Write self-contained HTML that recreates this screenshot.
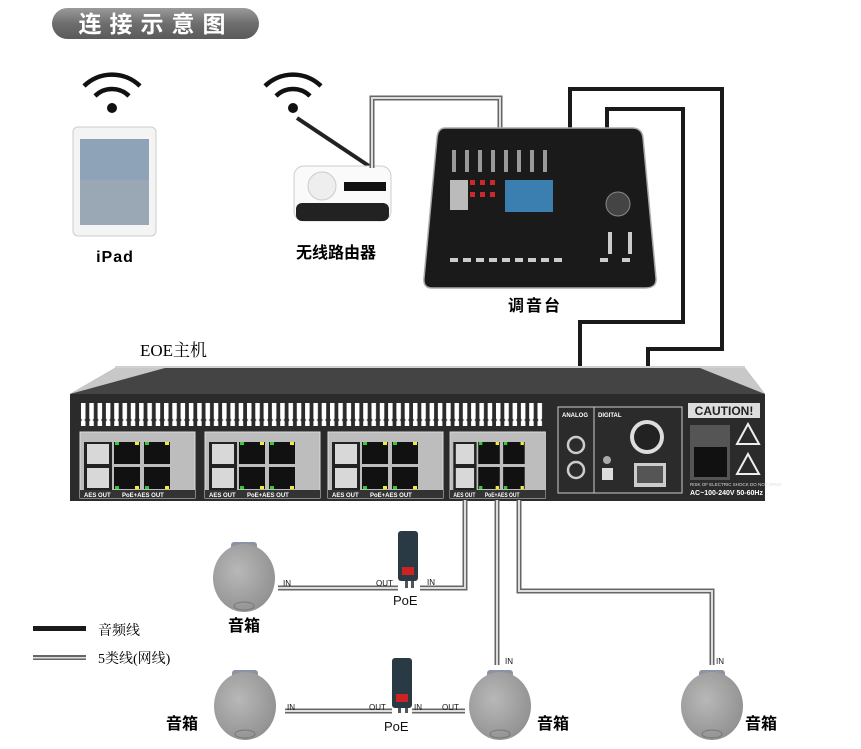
<!DOCTYPE html>
<html><head><meta charset="utf-8"><style>
html,body{margin:0;padding:0;background:#fff;}
svg{display:block;}
.cn{font-family:"Liberation Sans","Noto Sans CJK SC",sans-serif;}
</style></head><body>
<svg width="861" height="749" viewBox="0 0 861 749" xmlns="http://www.w3.org/2000/svg">
<defs>
<linearGradient id="pill" x1="0" y1="0" x2="0" y2="1"><stop offset="0" stop-color="#9a9a9a"/><stop offset="0.5" stop-color="#6e6e6e"/><stop offset="1" stop-color="#5a5a5a"/></linearGradient>
<radialGradient id="spk" cx="0.4" cy="0.4" r="0.7"><stop offset="0" stop-color="#b8b8b8"/><stop offset="1" stop-color="#8e8e8e"/></radialGradient>
<pattern id="vent" x="80" y="0" width="8.3" height="30" patternUnits="userSpaceOnUse"><rect x="1" y="0" width="4.5" height="30" rx="2" fill="#fff"/></pattern>
<g id="pg">
 <rect x="0" y="0" width="115" height="66" fill="#bdbdbd" stroke="#ddd"/>
 <rect x="4" y="10" width="28" height="48" fill="#222"/>
 <rect x="7" y="12" width="22" height="20" fill="#d8d8d8"/>
 <rect x="7" y="36" width="22" height="20" fill="#d8d8d8"/>
 <rect x="34" y="10" width="26" height="22" fill="#111"/>
 <rect x="64" y="10" width="26" height="22" fill="#111"/>
 <rect x="34" y="35" width="26" height="22" fill="#111"/>
 <rect x="64" y="35" width="26" height="22" fill="#111"/>
 <rect x="35" y="10" width="4" height="3" fill="#3c3"/><rect x="55" y="10" width="4" height="3" fill="#ee3"/>
 <rect x="65" y="10" width="4" height="3" fill="#3c3"/><rect x="85" y="10" width="4" height="3" fill="#ee3"/>
 <rect x="35" y="54" width="4" height="3" fill="#3c3"/><rect x="55" y="54" width="4" height="3" fill="#ee3"/>
 <rect x="65" y="54" width="4" height="3" fill="#3c3"/><rect x="85" y="54" width="4" height="3" fill="#ee3"/>
 <rect x="0" y="58" width="115" height="8" fill="#333"/>
 <text x="4" y="65" font-size="6" fill="#fff" font-family="Liberation Sans" font-weight="bold">AES OUT</text>
 <text x="42" y="65" font-size="6" fill="#fff" font-family="Liberation Sans" font-weight="bold">PoE+AES OUT</text>
</g>
<g id="wifi" fill="none" stroke="#111" stroke-width="4.5">
 <path d="M-28,-22 A40,40 0 0 1 28,-22"/><path d="M-17,-12 A24,24 0 0 1 17,-12"/><circle cx="0" cy="0" r="5" fill="#111" stroke="none"/>
</g>
<g id="speaker">
 <rect x="-13" y="-36" width="26" height="14" rx="3" fill="#8a94a4"/>
 <ellipse cx="0" cy="0" rx="31" ry="34" fill="url(#spk)"/>
 <ellipse cx="0" cy="28" rx="10" ry="4" fill="none" stroke="#777"/>
</g>
<g id="poe">
 <rect x="0" y="0" width="20" height="50" rx="3" fill="#2a3a44"/>
 <rect x="4" y="36" width="12" height="8" fill="#c22"/>
</g>
</defs>

<rect x="52" y="8" width="207" height="31" rx="15.5" fill="url(#pill)"/>
<text x="156" y="32" font-size="23" fill="#fff" text-anchor="middle" letter-spacing="8" class="cn" font-weight="bold">连接示意图</text>

<use href="#wifi" x="112" y="108"/>
<use href="#wifi" x="293" y="108"/>

<rect x="73" y="127" width="83" height="109" rx="5" fill="#f4f4f4" stroke="#ccc"/>
<rect x="80" y="139" width="69" height="86" fill="#8fa3b8"/>
<rect x="80" y="180" width="69" height="45" fill="#9aa8b6"/>
<text x="115" y="262" font-size="16" text-anchor="middle" font-weight="bold" font-family="Liberation Sans" letter-spacing="1">iPad</text>

<line x1="297" y1="118" x2="372" y2="168" stroke="#222" stroke-width="4"/>
<rect x="294" y="166" width="97" height="55" rx="10" fill="#fafafa" stroke="#ccc"/>
<rect x="296" y="203" width="93" height="18" rx="6" fill="#222"/>
<circle cx="322" cy="186" r="14" fill="#eee" stroke="#ccc"/>
<rect x="344" y="182" width="42" height="9" fill="#111"/>
<text x="336" y="258" font-size="16" text-anchor="middle" class="cn" font-weight="bold">无线路由器</text>

<path d="M372,168 V98 H500 V130" fill="none" stroke="#666" stroke-width="5"/>
<path d="M372,168 V98 H500 V130" fill="none" stroke="#ddd" stroke-width="2"/>

<path d="M570,130 V89 H722 V349 H648 V430" fill="none" stroke="#1a1a1a" stroke-width="4"/>
<path d="M607,130 V109 H683 V322 H580 V418" fill="none" stroke="#1a1a1a" stroke-width="4"/>

<path d="M445,128 H632 Q642,128 643,138 L656,278 Q657,288 645,288 H432 Q423,288 424,278 L437,138 Q438,128 445,128 Z" fill="#1a1a1a" stroke="#aaa" stroke-width="1.5"/>
<rect x="505" y="180" width="48" height="32" fill="#3a7fb0"/>
<g fill="#cc2a2a"><rect x="470" y="180" width="5" height="5"/><rect x="480" y="180" width="5" height="5"/><rect x="490" y="180" width="5" height="5"/><rect x="470" y="192" width="5" height="5"/><rect x="480" y="192" width="5" height="5"/><rect x="490" y="192" width="5" height="5"/></g>
<rect x="450" y="180" width="18" height="30" fill="#bbb"/>
<circle cx="618" cy="204" r="12" fill="#444" stroke="#888"/>
<g fill="#ccc">
<rect x="450" y="258" width="8" height="4"/><rect x="463" y="258" width="8" height="4"/><rect x="476" y="258" width="8" height="4"/><rect x="489" y="258" width="8" height="4"/><rect x="502" y="258" width="8" height="4"/><rect x="515" y="258" width="8" height="4"/><rect x="528" y="258" width="8" height="4"/><rect x="541" y="258" width="8" height="4"/><rect x="554" y="258" width="8" height="4"/><rect x="600" y="258" width="8" height="4"/><rect x="622" y="258" width="8" height="4"/>
<rect x="608" y="232" width="4" height="22"/><rect x="628" y="232" width="4" height="22"/>
</g>
<g fill="#999">
<rect x="452" y="150" width="4" height="22"/><rect x="465" y="150" width="4" height="22"/><rect x="478" y="150" width="4" height="22"/><rect x="491" y="150" width="4" height="22"/><rect x="504" y="150" width="4" height="22"/><rect x="517" y="150" width="4" height="22"/><rect x="530" y="150" width="4" height="22"/><rect x="543" y="150" width="4" height="22"/>
</g>
<text x="535" y="311" font-size="16" text-anchor="middle" class="cn" font-weight="bold" letter-spacing="2">调音台</text>

<text x="140" y="356" font-size="17" font-family="Liberation Serif,'Noto Serif CJK SC',serif">EOE主机</text>

<rect x="115" y="366" width="630" height="14" fill="#d0d0d0"/>
<path d="M70,394 L115,368 H745 L765,394 Z" fill="#444"/>
<path d="M115,368 L165,368 L70,394 Z" fill="#c8c8c8"/>
<path d="M700,368 H745 L765,394 Z" fill="#c8c8c8"/>
<rect x="70" y="394" width="695" height="107" fill="#2b2b2b"/>
<rect x="80" y="403" width="464" height="23" fill="url(#vent)"/>
<use href="#pg" x="80" y="432"/>
<use href="#pg" x="205" y="432"/>
<use href="#pg" x="328" y="432"/>
<g transform="translate(450,432) scale(0.83,1)"><use href="#pg"/></g>
<rect x="558" y="407" width="124" height="86" fill="none" stroke="#ccc" stroke-width="1"/>
<line x1="594" y1="407" x2="594" y2="493" stroke="#ccc"/>
<text x="562" y="417" font-size="6" fill="#fff" font-family="Liberation Sans" font-weight="bold">ANALOG</text>
<text x="598" y="417" font-size="6" fill="#fff" font-family="Liberation Sans" font-weight="bold">DIGITAL</text>
<circle cx="576" cy="445" r="8" fill="none" stroke="#ccc" stroke-width="2.5"/>
<circle cx="576" cy="470" r="8" fill="none" stroke="#ccc" stroke-width="2.5"/>
<circle cx="647" cy="437" r="17" fill="#ddd"/><circle cx="647" cy="437" r="13" fill="#222"/>
<circle cx="607" cy="460" r="4" fill="#aaa"/><rect x="602" y="468" width="11" height="12" fill="#ddd"/>
<rect x="634" y="463" width="32" height="24" fill="#ccc"/><rect x="637" y="466" width="26" height="17" fill="#555"/>
<rect x="688" y="403" width="72" height="15" fill="#ddd"/>
<text x="724" y="415" font-size="12" text-anchor="middle" font-family="Liberation Sans" font-weight="bold" fill="#222">CAUTION!</text>
<rect x="690" y="425" width="40" height="55" fill="#555"/>
<rect x="694" y="447" width="33" height="30" fill="#111"/>
<path d="M748,424 L737,444 H759 Z M748,454 L737,474 H759 Z" fill="none" stroke="#eee" stroke-width="2"/>
<text x="690" y="486" font-size="4.5" fill="#ddd" font-family="Liberation Sans">RISK OF ELECTRIC SHOCK DO NOT OPEN</text>
<text x="690" y="495" font-size="7" fill="#fff" font-weight="bold" font-family="Liberation Sans">AC~100-240V  50-60Hz</text>

<g fill="none" stroke="#666" stroke-width="5">
<path d="M465,500 V588 H420"/><path d="M398,588 H278"/>
<path d="M497,500 V665"/>
<path d="M519,500 V591 H712 V665"/>
<path d="M285,711 H392"/><path d="M412,711 H465"/>
</g>
<g fill="none" stroke="#ddd" stroke-width="2">
<path d="M465,500 V588 H420"/><path d="M398,588 H278"/>
<path d="M497,500 V665"/>
<path d="M519,500 V591 H712 V665"/>
<path d="M285,711 H392"/><path d="M412,711 H465"/>
</g>

<use href="#poe" x="398" y="531"/>
<rect x="405" y="581" width="3" height="7" fill="#555"/><rect x="411" y="581" width="3" height="7" fill="#555"/>
<use href="#poe" x="392" y="658"/>
<rect x="398" y="708" width="3" height="5" fill="#555"/><rect x="405" y="708" width="3" height="5" fill="#555"/>

<g font-family="Liberation Sans" font-size="8" fill="#111">
<text x="283" y="586">IN</text><text x="376" y="586">OUT</text><text x="427" y="585">IN</text>
<text x="505" y="664">IN</text><text x="716" y="664">IN</text>
<text x="287" y="710">IN</text><text x="369" y="710">OUT</text><text x="414" y="710">IN</text><text x="442" y="710">OUT</text>
</g>
<g font-family="Liberation Sans" font-size="13" fill="#111">
<text x="393" y="605">PoE</text><text x="384" y="731">PoE</text>
</g>

<use href="#speaker" x="244" y="578"/>
<use href="#speaker" x="245" y="706"/>
<use href="#speaker" x="500" y="706"/>
<use href="#speaker" x="712" y="706"/>
<g class="cn" font-size="16" font-weight="bold">
<text x="228" y="631">音箱</text>
<text x="166" y="729">音箱</text>
<text x="537" y="729">音箱</text>
<text x="745" y="729">音箱</text>
</g>

<rect x="33" y="626" width="53" height="5" fill="#1a1a1a"/>
<rect x="33" y="655" width="53" height="5" fill="#666"/><rect x="33" y="657" width="53" height="1.5" fill="#ddd"/>
<text x="98" y="635" font-size="14" font-family="'Liberation Serif','Noto Serif CJK SC',serif">音频线</text>
<text x="98" y="663" font-size="14" font-family="'Liberation Serif','Noto Serif CJK SC',serif">5类线(网线)</text>
</svg>
</body></html>
